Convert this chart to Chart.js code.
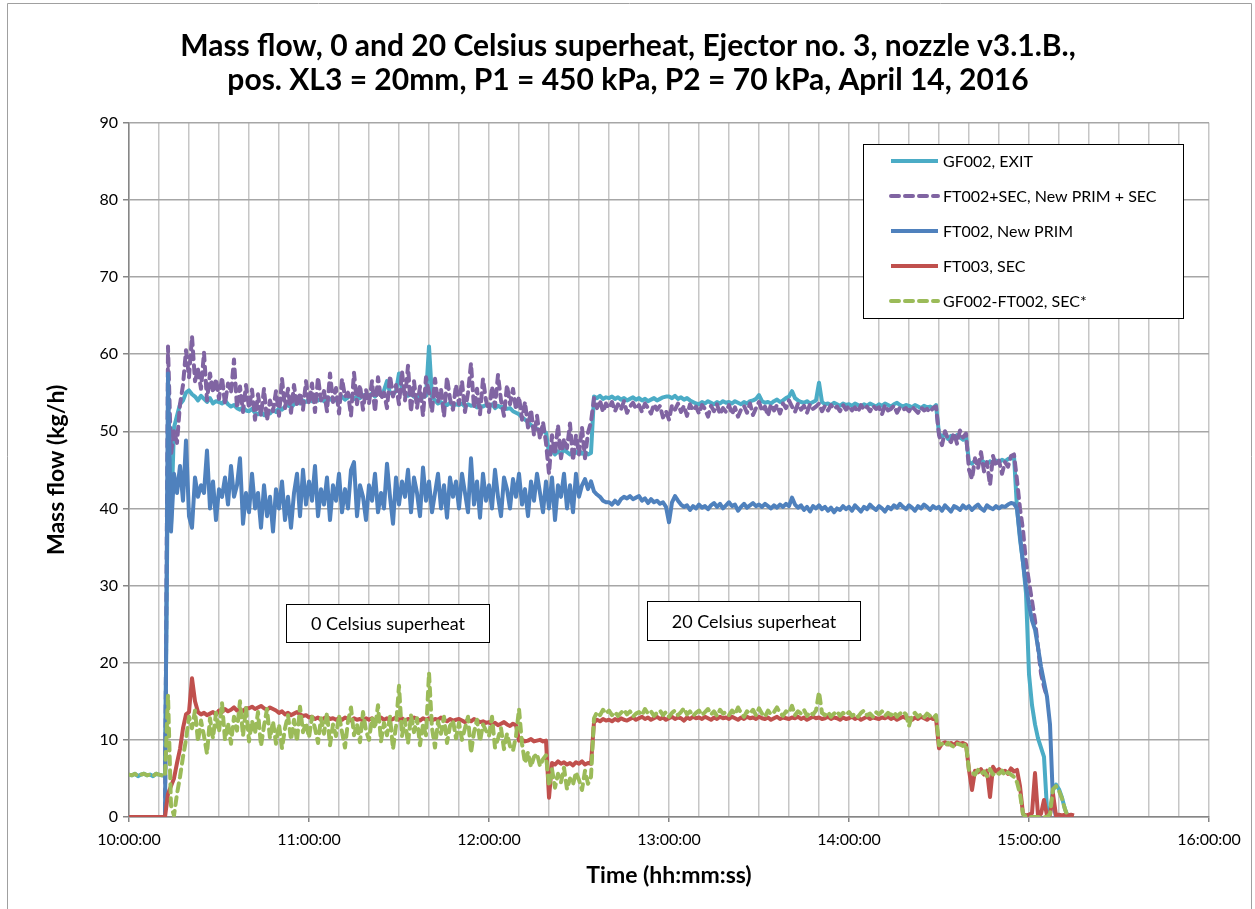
<!DOCTYPE html>
<html lang="en">
<head>
<meta charset="UTF-8">
<title>Mass flow, Ejector no. 3, nozzle v3.1.B.</title>
<style>
  html, body { margin: 0; padding: 0; background: #fff; }
  #wrap { position: relative; width: 1255px; height: 909px; }
</style>
</head>
<body>
<div id="wrap"><canvas id="massFlowChart"></canvas></div>

<script src="https://cdn.jsdelivr.net/npm/chart.js"></script>
<script>
// sample times, minutes after 10:00:00
const minutes = [
    0,   1,   2,   3,   4,   5,   6,   7,   8,   9,  10,  11,  12,  13,  14,  15,  16,  17,  18,  19,
   20,  21,  22,  23,  24,  25,  26,  27,  28,  29,  30,  31,  32,  33,  34,  35,  36,  37,  38,  39,
   40,  41,  42,  43,  44,  45,  46,  47,  48,  49,  50,  51,  52,  53,  54,  55,  56,  57,  58,  59,
   60,  61,  62,  63,  64,  65,  66,  67,  68,  69,  70,  71,  72,  73,  74,  75,  76,  77,  78,  79,
   80,  81,  82,  83,  84,  85,  86,  87,  88,  89,  90,  91,  92,  93,  94,  95,  96,  97,  98,  99,
  100, 101, 102, 103, 104, 105, 106, 107, 108, 109, 110, 111, 112, 113, 114, 115, 116, 117, 118, 119,
  120, 121, 122, 123, 124, 125, 126, 127, 128, 129, 130, 131, 132, 133, 134, 135, 136, 137, 138, 139,
  140, 141, 142, 143, 144, 145, 146, 147, 148, 149, 150, 151, 152, 153, 154, 155, 156, 157, 158, 159,
  160, 161, 162, 163, 164, 165, 166, 167, 168, 169, 170, 171, 172, 173, 174, 175, 176, 177, 178, 179,
  180, 181, 182, 183, 184, 185, 186, 187, 188, 189, 190, 191, 192, 193, 194, 195, 196, 197, 198, 199,
  200, 201, 202, 203, 204, 205, 206, 207, 208, 209, 210, 211, 212, 213, 214, 215, 216, 217, 218, 219,
  220, 221, 222, 223, 224, 225, 226, 227, 228, 229, 230, 231, 232, 233, 234, 235, 236, 237, 238, 239,
  240, 241, 242, 243, 244, 245, 246, 247, 248, 249, 250, 251, 252, 253, 254, 255, 256, 257, 258, 259,
  260, 261, 262, 263, 264, 265, 266, 267, 268, 269, 270, 271, 272, 273, 274, 275, 276, 277, 278, 279,
  280, 281, 282, 283, 284, 285, 286, 287, 288, 289, 290, 291, 292, 293, 294, 295, 296, 297, 298, 299,
  300, 301, 302, 303, 304, 305, 306, 307, 308, 309, 310, 311, 312, 313, 314, 315
];

// GF002, EXIT (kg/h)
const gf002Exit = [
  5.5, 5.4, 5.6, 5.3, 5.5, 5.6, 5.4, 5.5, 5.3, 5.6,
  5.5, 5.4, 5.3, 46.0, 37.8, 50.5, 52.0, 53.5, 54.0, 55.0,
  55.3, 54.8, 54.5, 54.0, 54.6, 54.2, 53.8, 54.3, 53.6, 53.9,
  53.8, 53.6, 54.0, 53.5, 53.2, 53.4, 53.0, 52.8, 53.1, 52.7,
  52.6, 52.9, 52.4, 52.2, 52.5, 52.1, 52.4, 52.3, 52.8, 52.5,
  53.0, 52.8, 53.2, 53.4, 53.1, 53.5, 53.8, 53.6, 54.0, 53.8,
  54.1, 53.9, 54.3, 54.0, 54.2, 53.9, 54.4, 54.1, 54.3, 54.0,
  54.2, 54.5, 54.1, 54.4, 54.6, 54.2, 54.5, 54.3, 54.7, 54.4,
  54.6, 54.9, 54.5, 55.0, 54.7, 55.3, 56.5, 55.0, 54.8, 55.2,
  57.5, 55.5, 55.0, 54.6, 54.8, 54.5, 54.2, 54.7, 54.4, 54.6,
  61.0, 54.5, 54.0, 53.6, 53.8, 53.5, 53.4, 53.7, 53.3, 53.5,
  53.4, 53.6, 53.2, 53.5, 53.3, 53.4, 53.1, 53.3, 53.2, 53.4,
  53.2, 53.5, 53.0, 53.3, 53.1, 53.2, 52.9, 53.0, 52.6, 52.4,
  52.2, 51.8, 51.5, 51.2, 50.8, 50.5, 50.3, 50.1, 50.0, 49.8,
  47.2, 47.5, 47.0, 47.4, 47.1, 47.6, 47.3, 47.0, 47.4, 47.2,
  47.5, 47.1, 47.3, 47.0, 47.2, 54.5, 54.3, 54.6, 54.2, 54.4,
  54.3, 54.5, 54.2, 54.4, 54.1, 54.3, 54.0, 54.2, 54.4, 54.1,
  54.3, 54.0, 54.2, 53.9, 54.1, 54.3, 54.0, 54.2, 54.4, 54.5,
  54.5, 54.3, 54.6, 54.2, 54.4, 54.1, 54.3, 54.0, 53.8, 53.6,
  53.5, 53.8, 53.6, 53.9, 53.7, 53.5, 53.8, 53.6, 53.9, 53.7,
  53.8, 53.6, 53.9, 53.7, 53.5, 53.8, 53.6, 53.9, 54.0, 54.2,
  54.7, 53.9, 53.7, 53.8, 53.6, 53.9, 54.1, 53.8, 54.0, 54.3,
  54.5, 55.2, 54.3, 54.0, 53.8, 53.7, 53.9, 53.6, 53.8, 54.0,
  56.3, 53.8, 53.5, 53.6, 53.4, 53.7, 53.5, 53.3, 53.6, 53.4,
  53.5, 53.3, 53.6, 53.4, 53.2, 53.5, 53.3, 53.6, 53.4, 53.2,
  53.5, 53.3, 53.6, 53.4, 53.2, 53.5, 53.7, 53.4, 53.2, 53.4,
  53.3, 53.1, 53.4, 53.2, 53.0, 53.3, 53.1, 53.2, 53.0, 53.4,
  49.7, 49.3, 49.6, 49.0, 49.4, 49.1, 49.5, 49.2, 48.9, 49.3,
  46.0, 45.8, 46.2, 45.9, 46.3, 46.0, 45.7, 46.1, 45.9, 46.2,
  46.0, 46.3, 46.1, 46.4, 46.5, 46.8, 40.0, 36.0, 33.0, 29.0,
  18.5, 14.5, 12.0, 10.2, 9.0, 7.8, 1.0, 0.4, 3.5, 4.2,
  3.6, 2.5, 1.0, 0, null, null
];

// FT002+SEC, New PRIM + SEC (kg/h)
const ft002PlusSec = [
  0, 0, 0, 0, 0, 0, 0, 0, 0, 0,
  0, 0, 0, 61.0, 47.0, 50.0, 48.5, 53.5, 56.0, 60.5,
  57.0, 62.3, 56.5, 58.0, 55.5, 60.2, 54.0, 57.5, 55.0, 56.8,
  54.2, 57.0, 53.5, 56.2, 55.0, 59.3, 53.0, 55.8, 52.5, 56.0,
  53.0, 55.4, 51.5, 54.8, 52.0, 55.5, 51.4, 54.0, 52.6, 55.2,
  52.0, 56.8, 53.0, 55.5, 52.4, 56.0, 53.2, 55.0, 52.8, 56.5,
  53.5, 56.2, 52.5, 57.0, 54.0, 55.2, 52.6, 57.5, 53.8, 55.6,
  52.3, 56.8, 54.5, 55.0, 52.0, 57.6, 53.5, 56.0, 52.8, 55.4,
  53.6, 56.5, 52.5, 57.0, 54.2, 55.0, 53.0, 57.2, 54.5, 56.0,
  53.5, 57.8, 54.0, 58.5, 52.5, 56.5, 53.0, 55.8, 52.0, 57.0,
  55.0, 52.5, 56.8, 53.8, 55.5, 51.9, 57.0, 54.2, 52.8, 56.0,
  53.5, 56.5, 52.5, 55.0, 58.8, 53.0, 55.5, 52.2, 56.8, 54.0,
  52.5, 55.8, 53.2, 57.3, 54.0, 52.0, 56.0, 53.5, 55.5, 52.8,
  54.5, 51.5, 53.8, 50.5, 52.8, 49.5, 52.0, 49.0, 51.2, 48.5,
  44.5, 49.5, 47.0, 50.8, 46.5, 49.0, 47.8, 51.0, 46.2, 49.5,
  47.0, 50.5, 46.5, 49.8, 51.2, 54.3, 53.0, 54.0, 52.5, 53.6,
  53.0, 53.8, 52.6, 53.5, 52.8, 53.9, 52.4, 53.2, 53.7, 52.9,
  53.4, 52.5, 53.6, 53.0, 52.3, 53.5, 52.8, 53.3, 51.8, 52.6,
  51.5, 53.4, 52.8, 53.6, 52.5, 53.3, 52.0, 53.5, 52.7, 53.2,
  52.3, 53.4, 52.9, 51.9, 53.3, 52.6, 53.5, 52.2, 53.0, 52.5,
  53.4, 52.2, 53.1, 51.9, 52.8, 53.3, 52.4, 53.6, 52.1, 53.0,
  53.8, 52.6, 53.2, 52.0, 53.5, 52.7, 53.4, 52.3, 53.6, 53.0,
  54.0, 53.2, 52.5, 53.6, 52.8, 53.3, 52.4, 53.5, 52.9, 53.2,
  53.6, 52.6, 53.3, 52.7, 53.4, 52.9, 53.2, 52.6, 53.4, 52.8,
  53.3, 52.7, 53.1, 52.5, 53.4, 52.8, 53.2, 52.6, 53.3, 52.9,
  53.1, 52.2, 53.4, 52.7, 52.9, 53.3, 52.4, 53.1, 52.8, 53.0,
  52.6, 53.2, 52.8, 52.4, 53.1, 52.7, 52.9, 52.5, 53.0, 53.2,
  49.5, 48.2, 50.0, 49.0, 48.6, 49.8, 48.4, 50.1, 49.2, 49.7,
  45.0, 43.8, 46.5, 45.2, 47.3, 44.8, 46.0, 43.0, 46.8, 45.5,
  46.2, 44.5, 46.0, 45.4, 46.8, 47.0, 43.7, 40.0, 37.2, 33.0,
  30.5, 28.0, 25.5, 22.0, 18.6, 16.9, 15.5, null, null, null,
  null, null, null, null, null, null
];

// FT002, New PRIM (kg/h)
const ft002 = [
  0, 0, 0, 0, 0, 0, 0, 0, 0, 0,
  0, 0, 0, 57.5, 37.0, 44.5, 42.0, 45.5, 41.0, 48.8,
  39.0, 37.5, 44.0, 41.5, 43.0, 42.0, 47.5, 40.0, 43.5, 38.5,
  42.5, 41.5, 44.0, 40.5, 45.5, 41.5, 43.0, 46.5, 38.0, 42.0,
  39.5, 44.5, 40.0, 42.0, 37.5, 43.0, 39.0, 41.5, 37.0, 42.5,
  40.0, 43.5, 38.5, 41.5, 37.5, 42.0, 44.5, 39.0, 45.0, 40.5,
  43.5, 41.0, 45.5, 39.0, 42.5, 40.5, 44.0, 38.5, 43.0, 41.0,
  44.5, 39.5, 42.5, 40.0, 45.0, 46.0, 39.0, 43.0, 41.5, 38.5,
  43.0, 41.0, 44.5, 39.5, 42.0, 40.0, 45.8, 41.5, 38.0, 44.0,
  40.5, 43.5, 41.5, 45.0, 39.5, 44.0, 42.0, 39.0, 45.3, 41.0,
  43.5, 39.5, 42.0, 44.5, 40.0, 43.0, 38.8, 44.0, 41.5, 43.5,
  40.0, 44.5, 42.0, 39.5, 46.5, 40.5, 43.5, 38.8, 44.5, 41.0,
  43.0, 40.0, 45.0, 41.5, 39.0, 44.0, 42.5, 40.0, 43.8, 41.5,
  44.5, 40.5, 42.5, 39.0, 43.5, 41.0, 44.5, 42.0, 39.5, 43.5,
  40.0, 44.0, 38.5, 43.0, 41.5, 44.5, 40.0, 43.0, 39.5, 44.5,
  41.5, 43.0, 43.8, 42.5, 43.5, 42.2, 41.8, 41.5, 41.0, 40.8,
  40.8, 40.5, 41.0, 40.6, 41.2, 41.5, 41.3, 41.6, 41.2, 41.4,
  41.6, 41.0, 41.3, 40.7, 41.2, 40.8, 41.0, 40.6, 40.8, 40.2,
  38.2, 40.8, 41.6, 41.0, 40.5, 40.2, 40.4, 39.8, 40.3, 40.0,
  40.5, 40.1, 40.3, 39.9, 40.4, 40.7, 40.2, 40.6, 40.0, 40.4,
  40.8, 40.3, 40.5, 39.7, 40.2, 40.6, 40.1, 40.4, 40.7, 40.3,
  40.5, 40.2, 40.6, 40.3, 40.0, 40.4, 40.1, 40.5, 40.2, 40.6,
  40.3, 41.4, 40.5, 40.1, 40.4, 39.8, 40.2, 39.6, 40.3, 40.0,
  40.4, 39.9, 40.2, 39.7, 40.1, 39.5, 40.0, 39.8, 40.3, 39.9,
  40.2, 39.7, 40.4, 40.0, 39.6, 40.2, 39.9, 40.5, 40.1, 39.8,
  40.3, 40.0, 39.6, 40.2, 39.9, 40.4, 40.1, 40.6, 40.2, 39.9,
  40.4, 40.1, 39.7, 40.3, 40.0, 40.5, 40.2, 39.8, 40.3, 40.0,
  40.2, 39.7, 40.4, 40.0, 39.6, 40.3, 40.1, 39.8, 40.4, 40.0,
  40.3, 39.8, 40.2, 40.5, 40.0, 39.7, 40.4, 40.1, 39.9, 40.3,
  40.0, 40.3, 40.2, 40.5, 40.7, 40.6, 40.0, 36.4, 33.0, 29.9,
  27.5, 25.5, 24.3, 22.0, 19.5, 17.5, 15.6, 12.0, 2.0, 0,
  0, 0, 0, null, null, null
];

// FT003, SEC (kg/h)
const ft003 = [
  0, 0, 0, 0, 0, 0, 0, 0, 0, 0,
  0, 0, 0, 3.0, 4.0, 5.0, 7.0, 8.8, 11.5, 13.3,
  13.6, 18.0, 15.0, 13.6, 13.3, 13.5, 13.2, 13.4, 13.6, 13.3,
  13.8, 13.6, 14.0, 13.7, 13.9, 14.2, 13.8, 14.0, 13.7, 14.1,
  14.1, 14.3, 14.0, 14.2, 14.4, 14.1, 13.9, 14.2, 14.0, 13.8,
  13.5, 13.7, 13.3, 13.5, 13.2, 13.4, 13.6, 13.3, 13.1, 13.2,
  12.9, 13.0, 12.7, 12.9, 12.6, 12.8, 13.0, 12.7, 12.8, 12.6,
  12.8, 12.6, 12.9, 12.7, 12.5, 12.8, 12.6, 12.7, 12.5, 12.8,
  12.6, 12.8, 12.5, 12.7, 12.9, 12.6, 12.8, 12.5, 12.7, 12.9,
  12.6, 12.8, 12.5, 12.7, 12.6, 12.9, 12.7, 12.5, 12.8, 12.6,
  12.8, 12.5, 12.7, 12.6, 12.9, 12.6, 12.4, 12.7, 12.5, 12.6,
  12.7, 12.5, 12.3, 12.6, 12.4, 12.7, 12.5, 12.3, 12.4, 12.2,
  12.3, 12.0, 12.2, 11.9, 12.1, 12.3, 12.0, 11.8, 12.1, 11.9,
  9.9, 10.0, 9.8, 9.9, 10.1, 9.8, 9.9, 10.0, 9.8, 9.9,
  2.5, 7.0, 6.8, 7.2, 6.9, 7.1, 6.8, 7.0, 6.7, 7.1,
  6.9, 7.2, 6.8, 7.0, 6.9, 12.3, 12.6, 12.4, 12.7, 12.5,
  12.6, 12.4, 12.7, 12.5, 12.8, 12.6, 12.5, 12.7, 12.9, 12.6,
  12.8, 13.0, 12.7, 12.9, 12.6, 12.8, 13.0, 12.7, 12.9, 12.6,
  12.8, 13.0, 12.7, 12.9, 12.8, 12.5, 12.9, 12.7, 13.0, 12.8,
  12.9, 12.7, 13.0, 12.8, 12.6, 12.9, 12.7, 13.0, 12.8, 12.9,
  12.7, 13.0, 12.8, 12.6, 12.9, 12.7, 13.0, 12.8, 12.9, 12.7,
  13.0, 12.8, 12.7, 12.9, 12.6, 12.8, 13.0, 12.7, 12.9, 12.8,
  12.7, 12.9, 12.8, 13.0, 12.7, 12.9, 12.6, 12.8, 13.0, 12.8,
  12.9, 12.7, 12.8, 13.0, 12.7, 12.9, 12.8, 12.6, 12.9, 12.7,
  12.8, 13.0, 12.7, 12.9, 12.6, 12.8, 13.0, 12.7, 12.9, 12.8,
  12.7, 12.9, 12.8, 13.0, 12.7, 12.9, 12.6, 12.8, 13.0, 12.8,
  12.8, 12.6, 12.9, 12.7, 13.0, 12.8, 12.6, 12.9, 12.7, 12.8,
  8.9, 9.5, 9.7, 9.4, 9.6, 9.3, 9.7, 9.5, 9.6, 9.4,
  6.1, 3.5, 6.0, 5.8, 6.2, 5.5, 6.0, 2.6, 6.5, 5.9,
  6.2, 5.8, 6.0, 5.6, 6.3, 5.9, 6.1, 4.0, 0.4, 0.2,
  0.3, 0.5, 5.7, 0.2, 0.4, 2.2, 0.2, 0.3, 3.0, 0.2,
  0.3, 0.2, 0.3, 0.2, 0.3, 0.2
];

// GF002-FT002, SEC* (kg/h)
const gf002MinusFt002 = [
  5.5, 5.4, 5.6, 5.3, 5.5, 5.6, 5.4, 5.5, 5.3, 5.6,
  5.5, 5.4, 5.3, 15.8, 1.5, 0.2, 3.0, 5.2, 7.8, 10.0,
  13.0, 11.5, 13.8, 9.8, 12.5, 10.5, 8.2, 12.8, 10.2, 13.5,
  11.0, 14.8, 10.0, 12.2, 9.5, 13.0, 11.2, 15.0, 10.5, 14.2,
  9.8, 12.5, 10.8, 13.6, 9.2, 11.8, 14.0, 10.2, 12.4, 9.5,
  12.0, 8.9, 11.5, 13.2, 10.0, 12.6, 9.8, 14.3, 11.0, 12.2,
  10.3, 13.0, 11.5, 9.6, 12.8, 10.8, 13.5, 9.3, 12.0, 10.5,
  13.2, 11.0, 9.0, 12.4, 14.2, 10.6, 12.0, 9.7, 13.6, 11.2,
  10.0, 12.8, 11.5, 14.5, 9.8, 12.2, 10.6, 13.0, 8.8, 11.8,
  17.0, 10.5, 12.6, 9.5, 13.2, 11.0, 12.8, 9.3, 12.0, 10.6,
  18.7, 11.5, 9.0, 12.4, 10.8, 13.0, 9.6, 11.8, 12.5, 10.2,
  12.2, 10.0, 11.5, 13.0, 8.3, 11.0, 12.6, 9.8, 12.0, 11.2,
  10.5, 13.0, 9.0, 10.2, 11.5, 8.8, 10.8, 9.2, 8.6, 10.5,
  14.0, 9.5, 7.0, 8.4, 6.5, 7.8, 8.2, 6.6, 7.5, 8.0,
  4.0, 6.2, 3.8, 5.6, 4.5, 6.4, 3.6, 5.0, 4.2, 5.8,
  4.8, 3.5, 6.0, 4.3, 5.2, 12.8, 13.6, 13.2, 13.9, 13.4,
  13.8, 13.2, 13.6, 13.1, 13.5, 13.9, 13.3, 13.7, 13.0, 13.4,
  13.6, 13.2, 14.0, 13.4, 13.7, 13.1, 13.5, 13.8, 13.2, 13.6,
  13.0, 13.5, 13.8, 13.2, 13.6, 14.1, 13.3, 13.7, 13.1, 13.5,
  13.8, 13.2, 13.6, 14.0, 13.3, 13.7, 13.1, 13.9, 13.4, 13.6,
  13.2, 13.8, 13.3, 14.2, 13.5, 13.0, 13.7, 13.4, 13.9, 13.2,
  14.1, 13.4, 13.0, 13.8, 13.3, 13.6, 14.2, 13.5, 13.1, 13.7,
  13.5, 14.4, 13.2, 13.7, 13.4, 13.9, 13.1, 13.6, 13.3, 13.8,
  16.2, 13.5, 13.2, 13.6, 13.0, 13.4, 13.7, 13.1, 13.5, 13.2,
  13.6, 13.1, 13.4, 13.0, 13.5, 13.8, 13.2, 13.4, 13.0, 13.6,
  13.3, 13.7, 13.1, 13.5, 13.2, 13.6, 13.0, 13.4, 13.7, 13.3,
  11.8, 13.2, 13.5, 13.0, 13.3, 12.9, 13.4, 13.1, 12.8, 13.2,
  9.3, 9.5, 9.2, 9.6, 9.3, 9.1, 9.5, 9.4, 9.2, 9.5,
  6.0, 5.8, 5.5, 6.1, 5.6, 5.9, 5.3, 6.2, 5.5, 5.8,
  5.6, 6.0, 5.4, 5.8, 5.5, 5.2, 4.5, 3.0, 0.4, 0,
  0, 0, 0, 0, 0, 0, 0, 0.4, 3.6, 4.0,
  3.4, 2.4, 1.0, 0, null, null
];

const seriesLabels = ['GF002, EXIT', 'FT002+SEC, New PRIM + SEC', 'FT002, New PRIM', 'FT003, SEC', 'GF002-FT002, SEC*'];
const timeTickLabels = ['10:00:00', '11:00:00', '12:00:00', '13:00:00', '14:00:00', '15:00:00', '16:00:00'];
const titleLines = [
    'Mass flow, 0 and 20 Celsius superheat, Ejector no. 3, nozzle v3.1.B.,',
    'pos. XL3 = 20mm, P1 = 450 kPa, P2 = 70 kPa, April 14, 2016'
];

// text boxes inside the plot: text, from / to (min), top / bottom (kg/h)
const noteTexts = ['0 Celsius superheat', '20 Celsius superheat'];
const noteFrom = [52.3, 172.7];
const noteTo = [120.0, 243.7];
const noteTop = [27.6, 28.0];
const noteBottom = [22.7, 22.9];

const FONT = 'Lato, "Open Sans", sans-serif';
const LINE_W = 4;

function toPoints(values) {
    return minutes.map((m, i) => ({ x: m, y: values[i] }));
}

function line(label, values, color, dashed, order) {
    return {
        label: label,
        data: toPoints(values),
        borderColor: color,
        backgroundColor: color,
        borderWidth: LINE_W,
        borderDash: dashed ? [8, 6] : [],
        borderCapStyle: dashed ? 'round' : 'butt',
        borderJoinStyle: 'round',
        pointRadius: 0,
        tension: 0,
        fill: false,
        order: order
    };
}

// white page, frame, title, text boxes and legend
const overlay = {
    id: 'overlay',
    beforeDraw(chart) {
        const c = chart.ctx;
        c.save();
        c.fillStyle = '#ffffff';
        c.fillRect(0, 0, chart.width, chart.height);
        c.restore();
    },
    afterDraw(chart) {
        const c = chart.ctx;
        const xs = chart.scales.x, ys = chart.scales.y;
        c.save();

        // outer frame
        c.strokeStyle = '#a0a0a0';
        c.lineWidth = 1;
        c.beginPath();
        c.moveTo(7.5, chart.height);
        c.lineTo(7.5, 3.5);
        c.lineTo(chart.width - 3.5, 3.5);
        c.lineTo(chart.width - 3.5, chart.height);
        c.stroke();

        // title
        c.fillStyle = '#000000';
        c.font = 'bold 30px ' + FONT;
        c.textAlign = 'center';
        c.textBaseline = 'middle';
        titleLines.forEach((t, i) => c.fillText(t, 628, 46 + i * 34));

        // text boxes
        c.font = '18px ' + FONT;
        noteTexts.forEach((t, i) => {
            const x0 = Math.round(xs.getPixelForValue(noteFrom[i])) + 0.5;
            const x1 = Math.round(xs.getPixelForValue(noteTo[i])) + 0.5;
            const y0 = Math.round(ys.getPixelForValue(noteTop[i])) + 0.5;
            const y1 = Math.round(ys.getPixelForValue(noteBottom[i])) + 0.5;
            c.fillStyle = '#ffffff';
            c.fillRect(x0, y0, x1 - x0, y1 - y0);
            c.strokeStyle = '#000000';
            c.lineWidth = 1;
            c.strokeRect(x0, y0, x1 - x0, y1 - y0);
            c.fillStyle = '#000000';
            c.fillText(t, (x0 + x1) / 2, (y0 + y1) / 2 + 1);
        });

        // legend
        const lx = 863.5, ly = 144.5, lw = 320, lh = 174;
        c.fillStyle = '#ffffff';
        c.fillRect(lx, ly, lw, lh);
        c.strokeStyle = '#000000';
        c.lineWidth = 1;
        c.strokeRect(lx, ly, lw, lh);
        c.font = '16px ' + FONT;
        c.textAlign = 'left';
        chart.data.datasets.forEach((ds, i) => {
            const rowY = 161 + i * 35;
            c.strokeStyle = ds.borderColor;
            c.lineWidth = LINE_W;
            c.setLineDash(ds.borderDash);
            c.lineCap = ds.borderCapStyle;
            c.beginPath();
            c.moveTo(891, rowY);
            c.lineTo(938, rowY);
            c.stroke();
            c.setLineDash([]);
            c.fillStyle = '#000000';
            c.fillText(ds.label, 943, rowY + 1);
        });
        c.restore();
    }
};

const chart = new Chart(document.getElementById('massFlowChart'), {
    type: 'line',
    data: {
        datasets: [
            line(seriesLabels[0], gf002Exit, '#4BACC6', false, 5),
            line(seriesLabels[1], ft002PlusSec, '#8064A2', true, 4),
            line(seriesLabels[2], ft002, '#4F81BD', false, 3),
            line(seriesLabels[3], ft003, '#C0504D', false, 2),
            line(seriesLabels[4], gf002MinusFt002, '#9BBB59', true, 1)
        ]
    },
    options: {
        responsive: true,
        maintainAspectRatio: false,
        animation: false,
        events: [],
        spanGaps: false,
        layout: { padding: { left: 0, right: 46, top: 122.7, bottom: 0 } },
        plugins: {
            legend: { display: false },
            tooltip: { enabled: false },
            title: { display: false }
        },
        scales: {
            x: {
                type: 'linear',
                min: 0,
                max: 360,
                ticks: {
                    stepSize: 10,
                    autoSkip: false,
                    maxRotation: 0,
                    color: '#000000',
                    padding: 8,
                    font: { family: FONT, size: 16 },
                    callback: v => (v % 60 === 0 ? timeTickLabels[v / 60] : '')
                },
                grid: {
                    color: '#c6c6c6',
                    lineWidth: 1.5,
                    tickLength: 5,
                    tickColor: ctx => (ctx.tick && ctx.tick.value % 60 === 0 ? '#868686' : 'rgba(0,0,0,0)')
                },
                border: { color: '#868686', width: 1.5 },
                title: {
                    display: true,
                    text: 'Time (hh:mm:ss)',
                    color: '#000000',
                    font: { family: FONT, size: 23, weight: 'bold' },
                    padding: { top: 0, bottom: 20 }
                },
                afterFit(scale) { scale.height = 92; }
            },
            y: {
                min: 0,
                max: 90,
                ticks: {
                    stepSize: 10,
                    color: '#000000',
                    padding: 5,
                    font: { family: FONT, size: 16 }
                },
                grid: {
                    color: '#a6a6a6',
                    lineWidth: 1.5,
                    tickLength: 6,
                    tickColor: '#868686'
                },
                border: { color: '#868686', width: 1.5 },
                title: {
                    display: true,
                    text: 'Mass flow (kg/h)',
                    color: '#000000',
                    font: { family: FONT, size: 23, weight: 'bold' },
                    padding: { top: 43, bottom: 0 }
                },
                afterFit(scale) { scale.width = 129; }
            }
        }
    },
    plugins: [overlay]
});
</script>
</body>
</html>
